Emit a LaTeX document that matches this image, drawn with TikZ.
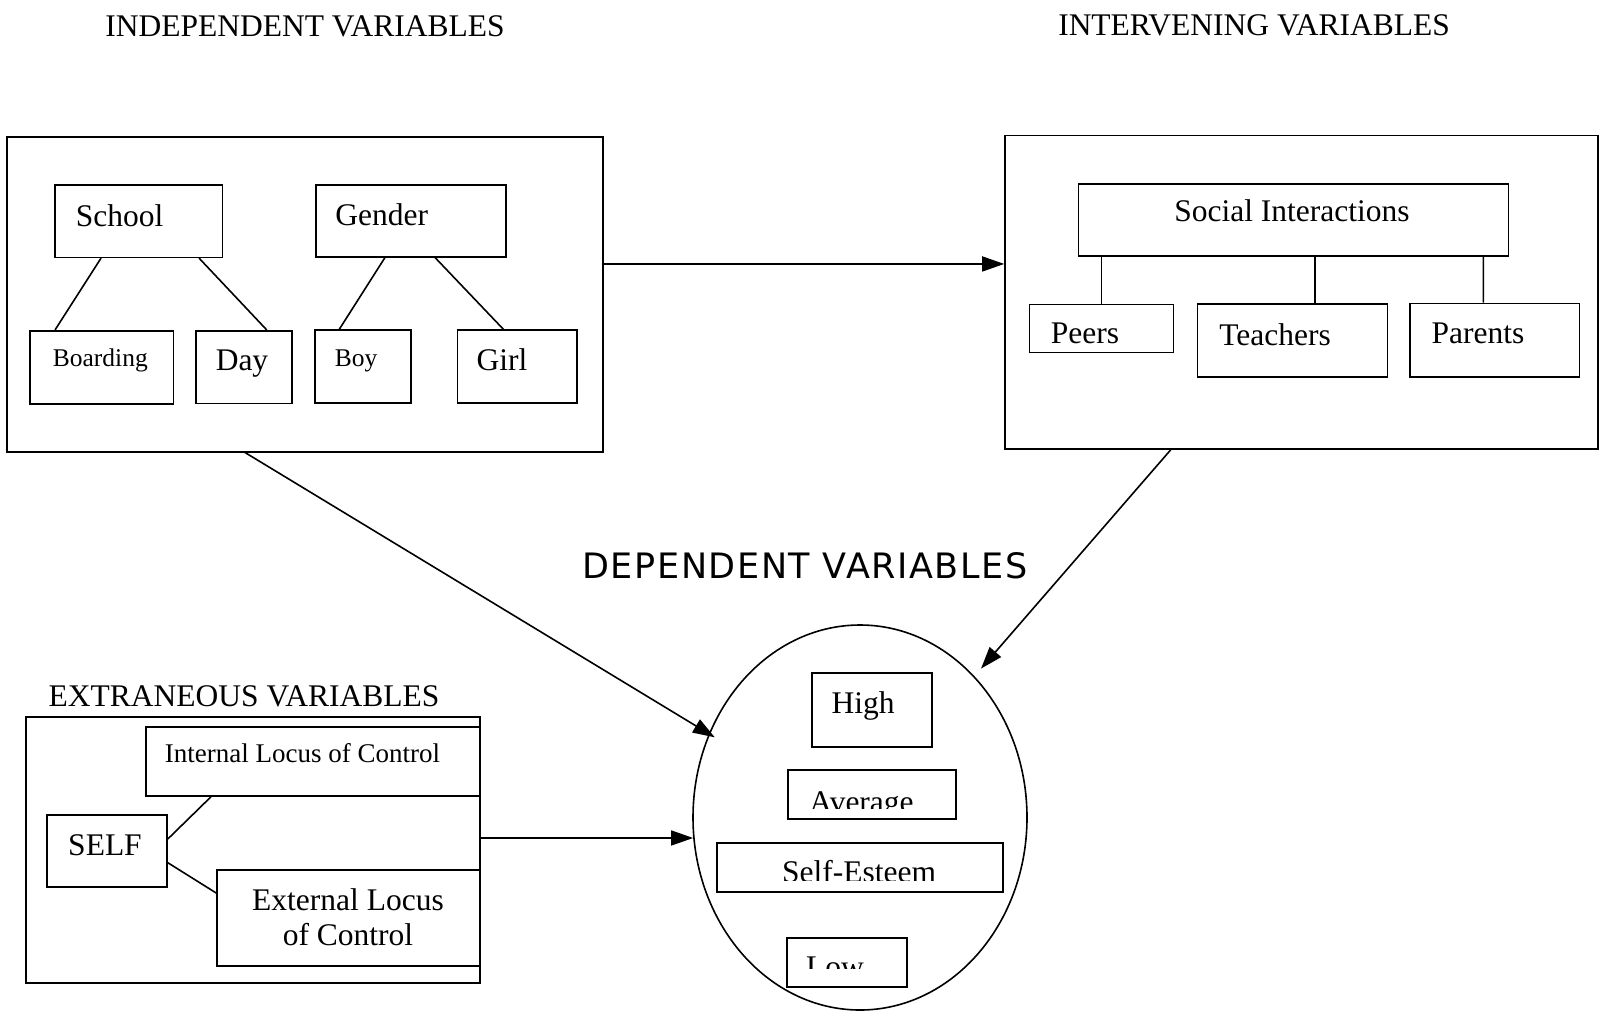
\documentclass[tikz,border=0pt]{standalone}
\usepackage{fontspec}
\setmainfont{Liberation Serif}
\newfontfamily\headfont[LetterSpace=4.5]{DejaVu Sans}
\usetikzlibrary{arrows.meta,fit,shapes.geometric}
\tikzset{
  box/.style={draw,line width=1.6pt,inner sep=0pt,rectangle},
  lbl/.style={anchor=base,inner sep=0pt,align=center,font=\fontsize{31.5}{35}\selectfont},
  smalllbl/.style={lbl,font=\fontsize{25.5}{30}\selectfont},
  link/.style={line width=1.6pt},
  arr/.style={line width=1.6pt,-{Triangle[length=22pt,width=15pt]}},
}
\newcommand{\varbox}[5]{%
  \node[box,fit={(#2,#3) (#4,#5)}] (#1) {};
}
\newcommand{\cutlbl}[7]{%
  \begin{scope}
    \clip (#3,#4) rectangle (#5,#6);
    \node[lbl] (#1) at (#2) {#7};
  \end{scope}
}

\begin{document}
\begin{tikzpicture}[x=1pt,y=-1pt]
  \useasboundingbox (0,0) rectangle (1600,1012);
  % titles
  \node[lbl] (indeptitle) at (305,36.7) {INDEPENDENT VARIABLES};
  \node[lbl] (intervtitle) at (1254,35) {INTERVENING VARIABLES};
  \node[lbl,font=\headfont\fontsize{35}{40}\selectfont] (deptitle) at (805,578) {DEPENDENT VARIABLES};
  \node[lbl] (extrtitle) at (244,706.7) {EXTRANEOUS VARIABLES};

  % independent variables
  \varbox{indep}{6.7}{136.7}{602.7}{451.7}
  \varbox{school}{55}{185}{222.3}{257.3}
  \varbox{gender}{315.7}{185}{505.7}{256.7}
  \varbox{boarding}{30}{330.7}{173.3}{404}
  \varbox{day}{195.7}{330.7}{291.7}{403.3}
  \varbox{boy}{315}{330}{410.7}{402.7}
  \varbox{girl}{457.3}{330}{576.7}{402.7}
  \node[lbl] (schooltxt) at (119.5,226) {School};
  \node[lbl] (gendertxt) at (381.7,225) {Gender};
  \node[smalllbl] (boardingtxt) at (100.3,366.7) {Boarding};
  \node[lbl] (daytxt) at (242,370.7) {Day};
  \node[smalllbl] (boytxt) at (356,366) {Boy};
  \node[lbl] (girltxt) at (502,370) {Girl};
  \draw[link] ([xshift=-37.6pt]school.south) -- ([xshift=-46.6pt]boarding.north);
  \draw[link] ([xshift=60.4pt]school.south) -- ([xshift=23pt]day.north);
  \draw[link] ([xshift=-25.7pt]gender.south) -- ([xshift=-23.5pt]boy.north);
  \draw[link] ([xshift=24.3pt]gender.south) -- ([xshift=-13.7pt]girl.north);

  % intervening variables
  \varbox{interv}{1005}{135.5}{1598}{449}
  \varbox{social}{1078.3}{184}{1508.3}{256}
  \varbox{peers}{1029.3}{304.3}{1173.3}{352.3}
  \varbox{teachers}{1197.3}{304}{1387.3}{376.7}
  \varbox{parents}{1410}{303.3}{1579.3}{376.7}
  \node[lbl] (socialtxt) at (1292,221.7) {Social Interactions};
  \cutlbl{peerstxt}{1085,343.5}{1030}{305}{1172}{344}{Peers}
  \node[lbl] (teacherstxt) at (1275,345) {Teachers};
  \node[lbl] (parentstxt) at (1478,343.3) {Parents};
  \draw[link] (peers.north) -- (peers.north |- social.south);
  \draw[link] ([xshift=22.7pt]teachers.north) -- ([xshift=21.7pt]social.south);
  \draw[link] ([xshift=-11.3pt]parents.north) -- ([xshift=190pt]social.south);

  % extraneous variables
  \varbox{extr}{26}{717}{480}{983}
  \varbox{internal}{145.7}{726.7}{480}{796}
  \varbox{self}{47}{815}{167}{887}
  \varbox{external}{217}{870}{480}{966}
  \node[lbl,font=\fontsize{27}{32}\selectfont] (internaltxt) at (302.5,762.7) {Internal Locus of Control};
  \node[lbl] (selftxt) at (105,855) {SELF};
  \node[lbl] (externaltxt) at (348,945) {External Locus\\of Control};
  \draw[link] ([yshift=12pt]self.east) -- ([xshift=-101.9pt]internal.south);
  \draw[link] ([yshift=-11.7pt]self.east) -- ([yshift=25pt]external.west);

  % dependent variables
  \node[draw,ellipse,line width=1.6pt,inner sep=0pt,minimum width=334pt,minimum height=385pt] (dep) at (860,817.5) {};
  \varbox{high}{811.7}{673}{931.7}{746.7}
  \varbox{average}{788}{770}{956}{819}
  \varbox{esteem}{716.7}{843}{1003}{891.7}
  \varbox{low}{787}{938}{907}{987}
  \node[lbl] (hightxt) at (863,713) {High};
  \cutlbl{averagetxt}{861.5,812}{789}{771}{955}{808}{Average}
  \cutlbl{esteemtxt}{859,882}{718}{844}{1002}{880}{Self-Esteem}
  \cutlbl{lowtxt}{835,977.5}{788}{939}{906}{968}{Low}

  % arrows
  \draw[arr] ([yshift=30.2pt]indep.east) -- ([yshift=28.3pt]interv.west);
  \draw[arr,shorten >=-7pt] ([xshift=-59.7pt]indep.south) -- (dep.151);
  \draw[arr,shorten >=10pt] ([xshift=-130.8pt]interv.south) -- (dep.51);
  \draw[arr] ([yshift=12pt]extr.east) -- (dep.187);
\end{tikzpicture}
\end{document}
